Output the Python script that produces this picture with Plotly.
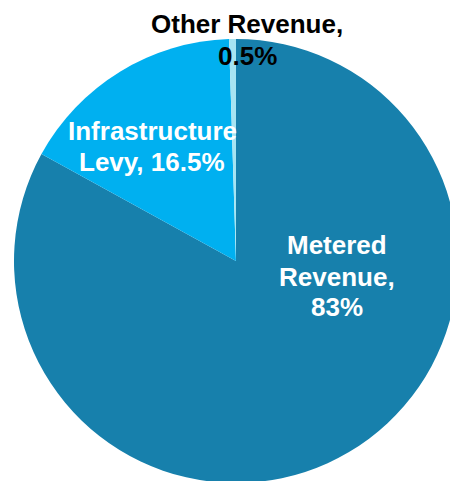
import plotly.graph_objects as go

# Revenue breakdown
categories = ["Metered Revenue", "Infrastructure Levy", "Other Revenue"]
shares = [83, 16.5, 0.5]
colors = ["#1780AC", "#00B0F0", "#A6E4F2"]

# Canvas is slightly larger than the viewport so the pie runs off the right/bottom edge
W, H = 460, 485
FONT = "Liberation Sans, Arial, sans-serif"


def paper(x, y):
    return x / W, 1 - y / H


def pct(v):
    return f"{v:g}%"


# How each label wraps onto lines
wrapped = [
    ["Metered", "Revenue,", pct(shares[0])],
    ["Infrastructure", "Levy, " + pct(shares[1])],
    ["Other Revenue,", pct(shares[2])],
]
label_colors = ["white", "white", "black"]
# Per-label centre x and vertical centre of each line, in pixels
label_x = [336.5, 152, 247.5]
label_y = [[245, 277, 307], [131, 162], [24, 55.5]]

fig = go.Figure(
    go.Pie(
        labels=categories,
        values=shares,
        sort=False,
        direction="clockwise",
        rotation=0,
        marker=dict(colors=colors, line=dict(width=0)),
        textinfo="none",
        hoverinfo="label+percent",
        showlegend=False,
        domain=dict(x=[14 / W, 458 / W], y=[1 - 483 / H, 1 - 39 / H]),
    )
)

annotations = []
for lines, c, x0, ys in zip(wrapped, label_colors, label_x, label_y):
    for line, y0 in zip(lines, ys):
        ax, ay = paper(x0, y0)
        annotations.append(
            dict(
                x=ax, y=ay, xref="paper", yref="paper",
                text=line, showarrow=False,
                xanchor="center", yanchor="middle", align="center",
                font=dict(family=FONT, size=26, color=c, weight="bold"),
            )
        )

fig.update_layout(
    width=W,
    height=H,
    margin=dict(l=0, r=0, t=0, b=0),
    paper_bgcolor="white",
    plot_bgcolor="white",
    annotations=annotations,
)

fig.write_html(
    "out.html",
    config={"displayModeBar": False},
    post_script=(
        "document.documentElement.style.overflow='hidden';"
        "document.body.style.overflow='hidden';"
        "document.body.style.margin='0';"
    ),
)
